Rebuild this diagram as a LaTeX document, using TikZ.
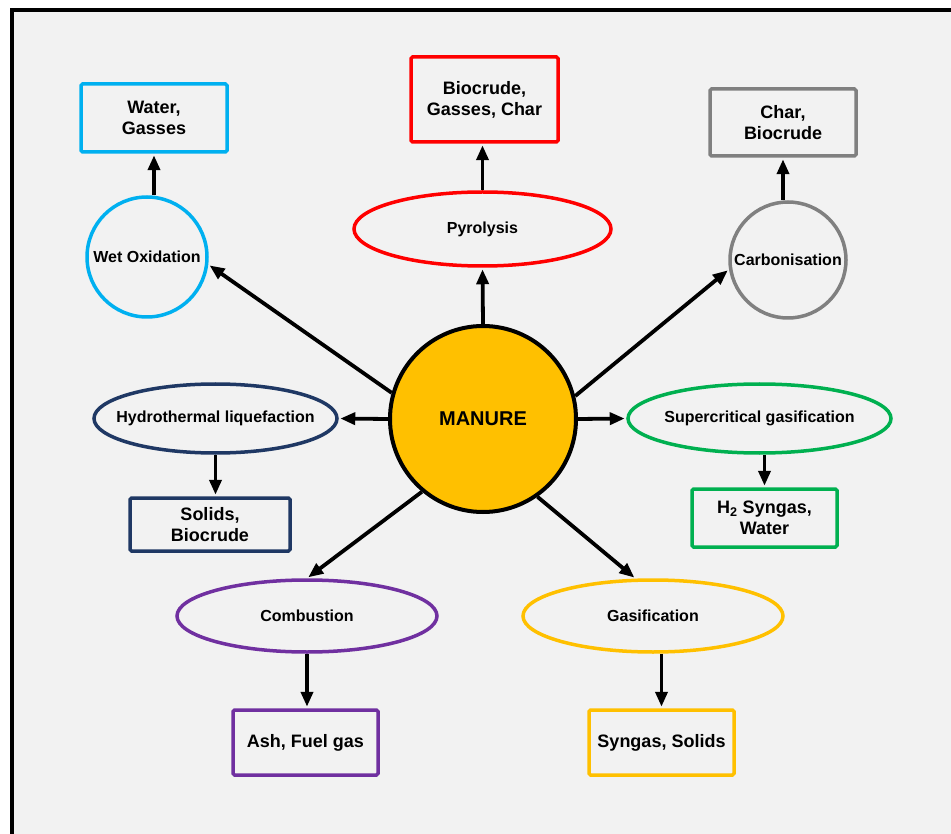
\documentclass[tikz,border=0pt]{standalone}
\usepackage{fontspec}
\setmainfont{Liberation Sans}
\usetikzlibrary{shapes}
\usetikzlibrary{arrows.meta}
\usetikzlibrary{positioning}

\definecolor{panelgray}{HTML}{F2F2F2}
\definecolor{manuregold}{HTML}{FFC000}
\definecolor{wetblue}{HTML}{00B0F0}
\definecolor{pyrored}{HTML}{FF0000}
\definecolor{carbgray}{HTML}{808080}
\definecolor{htlnavy}{HTML}{1F3864}
\definecolor{scgreen}{HTML}{00B050}
\definecolor{combpurple}{HTML}{7030A0}

\begin{document}
\begin{tikzpicture}
        [x=1pt, y=-1pt,
         hub/.style={circle, draw=black, fill=manuregold, line width=4pt, inner sep=0pt,
                     minimum size=186pt, font=\fontsize{20}{24}\selectfont\bfseries},
         proc/.style={ellipse, draw=#1, line width=3.5pt, inner ysep=0pt, inner xsep=-30pt,
                      minimum width=260pt, minimum height=72pt,
                      font=\fontsize{16}{19}\selectfont\bfseries},
         pcircle/.style={circle, draw=#1, line width=3.5pt, inner sep=0pt,
                         font=\fontsize{16}{19}\selectfont\bfseries},
         prod/.style={rectangle, draw=#1, line width=3.5pt, rounded corners=1.5pt,
                      inner sep=0pt, align=center, minimum width=145pt, minimum height=65pt,
                      font=\fontsize{18}{21}\selectfont\bfseries},
         arr/.style={line width=3.8pt, -{Triangle[length=15pt, width=12pt]}, shorten >=1.5pt}]
        % panel
        \useasboundingbox (0,0) rectangle (951,834);
        \clip (0,0) rectangle (951,834);
        \fill [white] (0,0) rectangle (951,834);
        \draw [line width=4pt, fill=panelgray] (12,10) rectangle (975,860);
        % feedstock and processes
        \node [hub] (manure) at (483,419) {MANURE};
        \node [proc=pyrored, minimum width=257pt, minimum height=74pt] (pyro) at (482.5,229) {Pyrolysis};
        \node [pcircle=wetblue, minimum size=120pt] (wet) at (147,257) {Wet Oxidation};
        \node [pcircle=carbgray, minimum size=116pt] (carb) at (788,260) {Carbonisation};
        \node [proc=htlnavy, minimum width=243pt, minimum height=69pt] (htl) at (215.5,418.5) {Hydrothermal liquefaction};
        \node [proc=scgreen, minimum width=263pt, minimum height=69pt] (scg) at (759.5,418.5) {Supercritical gasification};
        \node [proc=combpurple] (comb) at (307,616) {Combustion};
        \node [proc=manuregold] (gasif) at (653,616) {Gasification};
        % products
        \node [prod=wetblue, minimum width=146pt, minimum height=68pt] (water) at (154,118) {Water,\\Gasses};
        \node [prod=pyrored, minimum width=147pt, minimum height=85pt] (bgc) at (484.5,99.5) {Biocrude,\\Gasses, Char};
        \node [prod=carbgray, minimum width=146pt, minimum height=67pt] (cb) at (783,122.5) {Char,\\Biocrude};
        \node [prod=htlnavy, minimum width=160pt, minimum height=53pt] (solids) at (210,524.5) {Solids,\\Biocrude};
        \node [prod=scgreen, minimum height=58pt] (htwo) at (764.5,518) {H\textsubscript{2} Syngas,\\Water};
        \node [prod=combpurple] (ash) at (305.5,742.5) {Ash, Fuel gas};
        \node [prod=manuregold] (syn) at (661.5,742.5) {Syngas, Solids};
        % routes out of the manure
        \draw [arr] (manure.north) -- (pyro.south);
        \draw [arr] (manure.164) -- (wet.-7);
        \draw [arr] (manure.14) -- (carb.189);
        \draw [arr] (manure.west) -- (htl.east);
        \draw [arr] (manure.east) -- (scg.west);
        \draw [arr] (manure.230) -- (comb.north);
        \draw [arr] (manure.305) -- (gasif.115);
        % process to products
        \draw [arr] (pyro.north) -- (pyro.north |- bgc.south);
        \draw [arr] (water.south |- wet.north) -- (water.south);
        \draw [arr] (cb.south |- carb.north) -- (cb.south);
        \draw [arr] (htl.south) -- (htl.south |- solids.north);
        \draw [arr] (htwo.north |- scg.south) -- (htwo.north);
        \draw [arr] (comb.south) -- (comb.south |- ash.north);
        \draw [arr] (syn.north |- gasif.south) -- (syn.north);
\end{tikzpicture}
\end{document}
